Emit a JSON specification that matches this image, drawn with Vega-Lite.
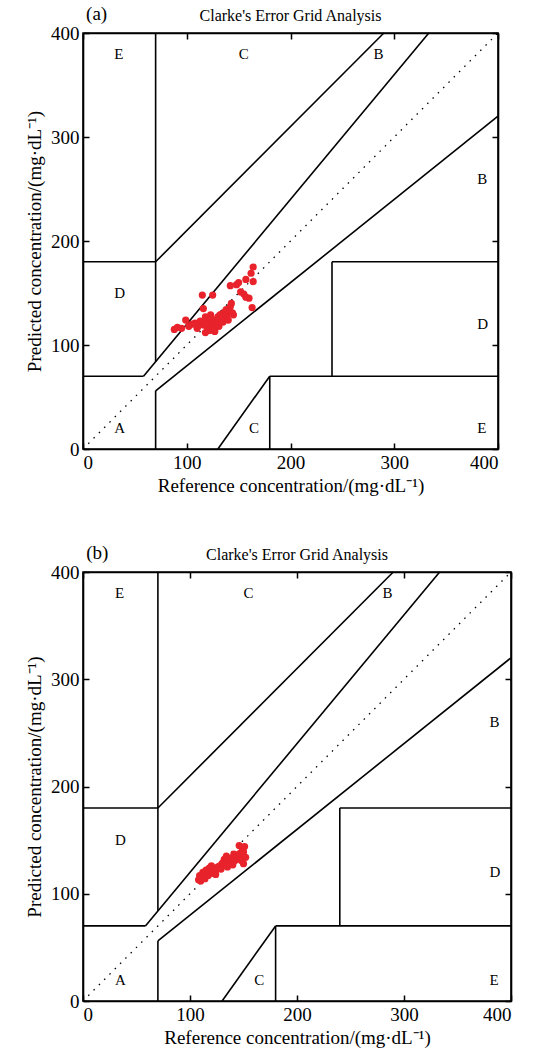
{
  "$schema": "https://vega.github.io/schema/vega-lite/v6.json",
  "background": "white",
  "padding": {"left": 24, "top": 4, "right": 5, "bottom": 0},
  "spacing": 46,
  "config": {
    "font": "Liberation Serif",
    "view": {"stroke": "black", "strokeWidth": 1.6},
    "axis": {
      "grid": false,
      "domainColor": "black",
      "domainWidth": 1.6,
      "tickColor": "black",
      "tickWidth": 1.5,
      "tickSize": -6,
      "labelPadding": 10,
      "labelFont": "Liberation Serif",
      "labelFontSize": 19,
      "labelColor": "black",
      "titleFont": "Liberation Serif",
      "titleFontSize": 19,
      "titleFontWeight": "normal",
      "titleColor": "black"
    }
  },
  "datasets": {
    "grid": [
      {"x": 0, "y": 70, "x2": 58.33, "y2": 70},
      {"x": 58.33, "y": 70, "x2": 333.33, "y2": 400},
      {"x": 70, "y": 84, "x2": 70, "y2": 400},
      {"x": 0, "y": 180, "x2": 70, "y2": 180},
      {"x": 70, "y": 180, "x2": 290, "y2": 400},
      {"x": 70, "y": 0, "x2": 70, "y2": 56},
      {"x": 70, "y": 56, "x2": 400, "y2": 320},
      {"x": 180, "y": 0, "x2": 180, "y2": 70},
      {"x": 180, "y": 70, "x2": 400, "y2": 70},
      {"x": 240, "y": 70, "x2": 240, "y2": 180},
      {"x": 240, "y": 180, "x2": 400, "y2": 180},
      {"x": 130, "y": 0, "x2": 180, "y2": 70}
    ],
    "diag": [{"x": 0, "y": 0, "x2": 400, "y2": 400}],
    "zones": [
      {"x": 30, "y": 20, "t": "A"},
      {"x": 30, "y": 150, "t": "D"},
      {"x": 30, "y": 380, "t": "E"},
      {"x": 150, "y": 380, "t": "C"},
      {"x": 160, "y": 20, "t": "C"},
      {"x": 380, "y": 20, "t": "E"},
      {"x": 380, "y": 120, "t": "D"},
      {"x": 380, "y": 260, "t": "B"},
      {"x": 280, "y": 380, "t": "B"}
    ],
    "titles": [{"x": 200, "y": 416, "t": "Clarke's Error Grid Analysis"}],
    "labA": [{"x": 3, "y": 418, "t": "(a)"}],
    "labB": [{"x": 3, "y": 418, "t": "(b)"}],
    "ptsA": [
      {"x": 88, "y": 115}, {"x": 91, "y": 117}, {"x": 95, "y": 116}, {"x": 99, "y": 124}, {"x": 102, "y": 118},
      {"x": 105, "y": 120}, {"x": 108, "y": 121}, {"x": 110, "y": 116}, {"x": 112, "y": 119}, {"x": 113, "y": 123},
      {"x": 115, "y": 148}, {"x": 116, "y": 135}, {"x": 117, "y": 119}, {"x": 118, "y": 127}, {"x": 119, "y": 122},
      {"x": 120, "y": 117}, {"x": 121, "y": 120}, {"x": 122, "y": 114}, {"x": 123, "y": 129}, {"x": 124, "y": 125},
      {"x": 125, "y": 148}, {"x": 125, "y": 118}, {"x": 126, "y": 121}, {"x": 127, "y": 116}, {"x": 128, "y": 124},
      {"x": 129, "y": 121}, {"x": 130, "y": 127}, {"x": 131, "y": 118}, {"x": 131, "y": 122}, {"x": 132, "y": 129},
      {"x": 133, "y": 125}, {"x": 134, "y": 130}, {"x": 135, "y": 122}, {"x": 136, "y": 127}, {"x": 137, "y": 132},
      {"x": 138, "y": 134}, {"x": 139, "y": 129}, {"x": 140, "y": 124}, {"x": 141, "y": 133}, {"x": 142, "y": 137},
      {"x": 143, "y": 140}, {"x": 144, "y": 131}, {"x": 145, "y": 129}, {"x": 142, "y": 157}, {"x": 148, "y": 158},
      {"x": 150, "y": 160}, {"x": 152, "y": 151}, {"x": 155, "y": 149}, {"x": 157, "y": 163}, {"x": 157, "y": 146},
      {"x": 160, "y": 145}, {"x": 162, "y": 169}, {"x": 164, "y": 175}, {"x": 164, "y": 161}, {"x": 163, "y": 136},
      {"x": 127, "y": 113}, {"x": 118, "y": 112}
    ],
    "ptsB": [
      {"x": 108, "y": 113}, {"x": 109, "y": 117}, {"x": 110, "y": 112}, {"x": 111, "y": 115}, {"x": 112, "y": 120},
      {"x": 113, "y": 118}, {"x": 114, "y": 114}, {"x": 115, "y": 122}, {"x": 116, "y": 118}, {"x": 117, "y": 117},
      {"x": 118, "y": 124}, {"x": 119, "y": 121}, {"x": 120, "y": 126}, {"x": 121, "y": 119}, {"x": 122, "y": 123},
      {"x": 123, "y": 120}, {"x": 124, "y": 118}, {"x": 125, "y": 123}, {"x": 126, "y": 125}, {"x": 128, "y": 126},
      {"x": 129, "y": 123}, {"x": 130, "y": 128}, {"x": 131, "y": 129}, {"x": 132, "y": 132}, {"x": 133, "y": 128},
      {"x": 134, "y": 135}, {"x": 135, "y": 125}, {"x": 136, "y": 130}, {"x": 137, "y": 131}, {"x": 138, "y": 128},
      {"x": 139, "y": 133}, {"x": 140, "y": 134}, {"x": 141, "y": 137}, {"x": 142, "y": 131}, {"x": 143, "y": 132},
      {"x": 144, "y": 136}, {"x": 145, "y": 134}, {"x": 146, "y": 135}, {"x": 147, "y": 138}, {"x": 148, "y": 131},
      {"x": 149, "y": 142}, {"x": 150, "y": 139}, {"x": 151, "y": 144}, {"x": 152, "y": 134}, {"x": 150, "y": 128},
      {"x": 140, "y": 127}, {"x": 146, "y": 145}
    ]
  },
  "vconcat": [
    {
      "width": 415,
      "height": 416,
      "resolve": {"axis": {"x": "independent", "y": "independent"}},
      "layer": [
        {
          "data": {"name": "grid"},
          "mark": {"type": "rule", "color": "black", "strokeWidth": 1.6},
          "encoding": {
            "x": {"field": "x", "type": "quantitative", "scale": {"domain": [0, 400]}, "axis": {"values": [0, 100, 200, 300, 400], "title": "Reference concentration/(mg·dL⁻¹)", "titlePadding": 4}},
            "y": {"field": "y", "type": "quantitative", "scale": {"domain": [0, 400]}, "axis": {"values": [0, 100, 200, 300, 400], "title": "Predicted concentration/(mg·dL⁻¹)", "titlePadding": 6}},
            "x2": {"field": "x2"},
            "y2": {"field": "y2"}
          }
        },
        {
          "data": {"name": "diag"},
          "mark": {"type": "rule", "color": "black", "strokeWidth": 1.3, "strokeDash": [1.5, 6]},
          "encoding": {
            "x": {"field": "x", "type": "quantitative", "axis": {"orient": "top", "values": [0, 100, 200, 300, 400], "labels": false, "title": null}},
            "y": {"field": "y", "type": "quantitative", "axis": {"orient": "right", "values": [0, 100, 200, 300, 400], "labels": false, "title": null}},
            "x2": {"field": "x2"},
            "y2": {"field": "y2"}
          }
        },
        {
          "data": {"name": "zones"},
          "mark": {"type": "text", "align": "left", "baseline": "middle", "fontSize": 15, "font": "Liberation Serif", "color": "black"},
          "encoding": {
            "x": {"field": "x", "type": "quantitative", "axis": null},
            "y": {"field": "y", "type": "quantitative", "axis": null},
            "text": {"field": "t"}
          }
        },
        {
          "data": {"name": "ptsA"},
          "mark": {"type": "circle", "color": "#e8232b", "size": 52, "opacity": 1},
          "encoding": {
            "x": {"field": "x", "type": "quantitative", "axis": null},
            "y": {"field": "y", "type": "quantitative", "axis": null}
          }
        },
        {
          "data": {"name": "titles"},
          "mark": {"type": "text", "align": "center", "baseline": "middle", "fontSize": 16, "font": "Liberation Serif", "color": "black"},
          "encoding": {
            "x": {"field": "x", "type": "quantitative", "axis": null},
            "y": {"field": "y", "type": "quantitative", "axis": null},
            "text": {"field": "t"}
          }
        },
        {
          "data": {"name": "labA"},
          "mark": {"type": "text", "align": "left", "baseline": "middle", "fontSize": 19, "font": "Liberation Serif", "color": "black"},
          "encoding": {
            "x": {"field": "x", "type": "quantitative", "axis": null},
            "y": {"field": "y", "type": "quantitative", "axis": null},
            "text": {"field": "t"}
          }
        }
      ]
    },
    {
      "width": 428,
      "height": 429,
      "resolve": {"axis": {"x": "independent", "y": "independent"}},
      "layer": [
        {
          "data": {"name": "grid"},
          "mark": {"type": "rule", "color": "black", "strokeWidth": 1.6},
          "encoding": {
            "x": {"field": "x", "type": "quantitative", "scale": {"domain": [0, 400]}, "axis": {"values": [0, 100, 200, 300, 400], "title": "Reference concentration/(mg·dL⁻¹)", "titlePadding": 4}},
            "y": {"field": "y", "type": "quantitative", "scale": {"domain": [0, 400]}, "axis": {"values": [0, 100, 200, 300, 400], "title": "Predicted concentration/(mg·dL⁻¹)", "titlePadding": 6}},
            "x2": {"field": "x2"},
            "y2": {"field": "y2"}
          }
        },
        {
          "data": {"name": "diag"},
          "mark": {"type": "rule", "color": "black", "strokeWidth": 1.3, "strokeDash": [1.5, 6]},
          "encoding": {
            "x": {"field": "x", "type": "quantitative", "axis": {"orient": "top", "values": [0, 100, 200, 300, 400], "labels": false, "title": null}},
            "y": {"field": "y", "type": "quantitative", "axis": {"orient": "right", "values": [0, 100, 200, 300, 400], "labels": false, "title": null}},
            "x2": {"field": "x2"},
            "y2": {"field": "y2"}
          }
        },
        {
          "data": {"name": "zones"},
          "mark": {"type": "text", "align": "left", "baseline": "middle", "fontSize": 15, "font": "Liberation Serif", "color": "black"},
          "encoding": {
            "x": {"field": "x", "type": "quantitative", "axis": null},
            "y": {"field": "y", "type": "quantitative", "axis": null},
            "text": {"field": "t"}
          }
        },
        {
          "data": {"name": "ptsB"},
          "mark": {"type": "circle", "color": "#e8232b", "size": 52, "opacity": 1},
          "encoding": {
            "x": {"field": "x", "type": "quantitative", "axis": null},
            "y": {"field": "y", "type": "quantitative", "axis": null}
          }
        },
        {
          "data": {"name": "titles"},
          "mark": {"type": "text", "align": "center", "baseline": "middle", "fontSize": 16, "font": "Liberation Serif", "color": "black"},
          "encoding": {
            "x": {"field": "x", "type": "quantitative", "axis": null},
            "y": {"field": "y", "type": "quantitative", "axis": null},
            "text": {"field": "t"}
          }
        },
        {
          "data": {"name": "labB"},
          "mark": {"type": "text", "align": "left", "baseline": "middle", "fontSize": 19, "font": "Liberation Serif", "color": "black"},
          "encoding": {
            "x": {"field": "x", "type": "quantitative", "axis": null},
            "y": {"field": "y", "type": "quantitative", "axis": null},
            "text": {"field": "t"}
          }
        }
      ]
    }
  ]
}
